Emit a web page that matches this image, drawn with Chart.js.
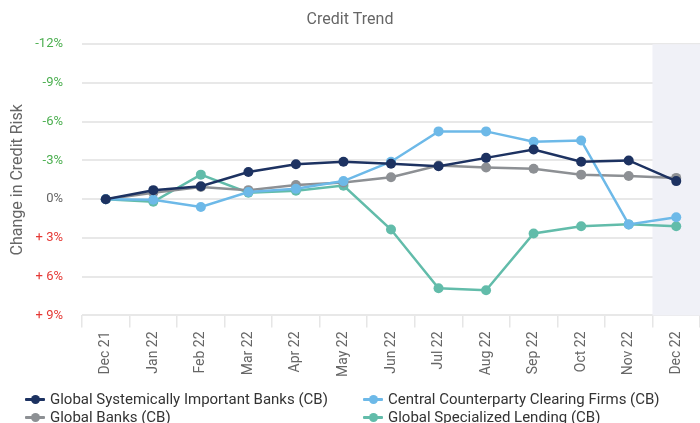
<!DOCTYPE html>
<html>
<head>
<meta charset="utf-8">
<script src="https://cdn.jsdelivr.net/npm/chart.js@4.4.1/dist/chart.umd.min.js"></script>
<style>
  html, body { margin: 0; padding: 0; background: #fff; overflow: hidden; }
  #wrap { position: relative; width: 700px; height: 423px; overflow: hidden; font-family: Roboto, "Noto Sans", sans-serif; }
  #chart { position: absolute; left: 0; top: 0; }
  #legend { position: absolute; left: 25px; top: 390px; display: grid; grid-template-columns: 338px 320px; row-gap: 0px; }
  .item { display: flex; align-items: center; height: 18px; font-size: 15px; color: #333; white-space: nowrap; }
  .mark { position: relative; width: 20px; height: 9px; margin-right: 5px; flex: none; }
  .mark .ln { position: absolute; left: 0; right: 0; top: 3.5px; height: 2.5px; border-radius: 1px; }
  .mark .dot { position: absolute; left: 6px; top: 0; width: 9px; height: 9px; border-radius: 50%; }
</style>
</head>
<body>
<div id="wrap">
  <canvas id="chart" width="700" height="423"></canvas>
  <div id="legend"></div>
</div>
<script>
// Monthly change in credit risk (percent); negative values mean lower risk.
const months = ['Dec 21', 'Jan 22', 'Feb 22', 'Mar 22', 'Apr 22', 'May 22', 'Jun 22',
                'Jul 22', 'Aug 22', 'Sep 22', 'Oct 22', 'Nov 22', 'Dec 22'];

const gsibValues = [0, -0.7, -1.0, -2.1, -2.7, -2.9, -2.75, -2.55, -3.2, -3.85, -2.9, -3.0, -1.4];
const ccpValues  = [0, 0.05, 0.6, -0.55, -0.8, -1.4, -2.9, -5.25, -5.25, -4.45, -4.55, 1.95, 1.4];
const gbValues   = [0, -0.5, -0.95, -0.7, -1.1, -1.3, -1.7, -2.6, -2.45, -2.35, -1.9, -1.8, -1.65];
const gslValues  = [0, 0.2, -1.9, -0.5, -0.65, -1.05, 2.35, 6.9, 7.05, 2.65, 2.1, 1.95, 2.1];

const seriesNames = ['Global Systemically Important Banks (CB)', 'Central Counterparty Clearing Firms (CB)',
                     'Global Banks (CB)', 'Global Specialized Lending (CB)'];
const seriesColors = ['#1d3261', '#6db9e8', '#8d9094', '#62bcaa'];
const seriesValues = [gsibValues, ccpValues, gbValues, gslValues];

// Light band behind the most recent month
const latestBand = {
  id: 'latestBand',
  beforeDatasetsDraw(chart) {
    const x = chart.scales.x, area = chart.chartArea, ctx = chart.ctx;
    const last = months.length - 1;
    const half = (x.getPixelForValue(last) - x.getPixelForValue(last - 1)) / 2;
    ctx.save();
    ctx.fillStyle = '#f0f1f7';
    ctx.fillRect(x.getPixelForValue(last) - half, area.top, half * 2, area.bottom - area.top);
    ctx.restore();
  }
};

const datasets = seriesNames.map((name, i) => ({
  label: name,
  data: seriesValues[i],
  borderColor: seriesColors[i],
  backgroundColor: seriesColors[i],
  pointBackgroundColor: seriesColors[i],
  pointBorderColor: seriesColors[i],
  borderWidth: 2.5,
  pointRadius: 5,
  pointBorderWidth: 0,
  tension: 0
}));

Chart.defaults.font.family = 'Roboto, "Noto Sans", sans-serif';

new Chart(document.getElementById('chart'), {
  type: 'line',
  data: { labels: months, datasets: datasets },
  plugins: [latestBand],
  options: {
    responsive: false,
    animation: false,
    layout: { autoPadding: false, padding: { top: 0, right: 0, bottom: 42, left: 0 } },
    plugins: {
      legend: { display: false },
      tooltip: { enabled: false },
      title: {
        display: true,
        text: 'Credit Trend',
        color: '#666',
        font: { size: 16, weight: 'normal' },
        padding: { top: 10, bottom: 15 }
      }
    },
    scales: {
      x: {
        offset: true,
        grid: { drawOnChartArea: false, drawTicks: true, tickLength: 12, color: '#e6e6e6', lineWidth: 1.5, offset: true },
        border: { display: false },
        ticks: { color: '#666', font: { size: 14 }, maxRotation: 90, minRotation: 90, padding: 4 }
      },
      y: {
        reverse: true,
        min: -12,
        max: 9,
        afterFit: (scale) => { scale.width = 82; },
        title: { display: true, text: 'Change in Credit Risk', color: '#666', font: { size: 16 }, padding: { top: 8, bottom: 6 } },
        grid: { color: '#e8e8e8', lineWidth: 2, drawTicks: false },
        border: { display: false },
        ticks: {
          stepSize: 3,
          padding: 19,
          font: { size: 13 },
          color: (ctx) => ctx.tick.value < 0 ? '#4caf50' : (ctx.tick.value > 0 ? '#e53935' : '#666'),
          callback: (v) => v < 0 ? v + '%' : (v > 0 ? '+ ' + v + '%' : '0%')
        }
      }
    }
  }
});

// Two-column legend beneath the chart
const legend = document.getElementById('legend');
[0, 1, 2, 3].forEach(i => {
  const item = document.createElement('div');
  item.className = 'item';
  item.innerHTML = '<span class="mark"><span class="ln" style="background:' + seriesColors[i] +
    '"></span><span class="dot" style="background:' + seriesColors[i] + '"></span></span>' +
    '<span>' + seriesNames[i] + '</span>';
  legend.appendChild(item);
});
</script>
</body>
</html>
